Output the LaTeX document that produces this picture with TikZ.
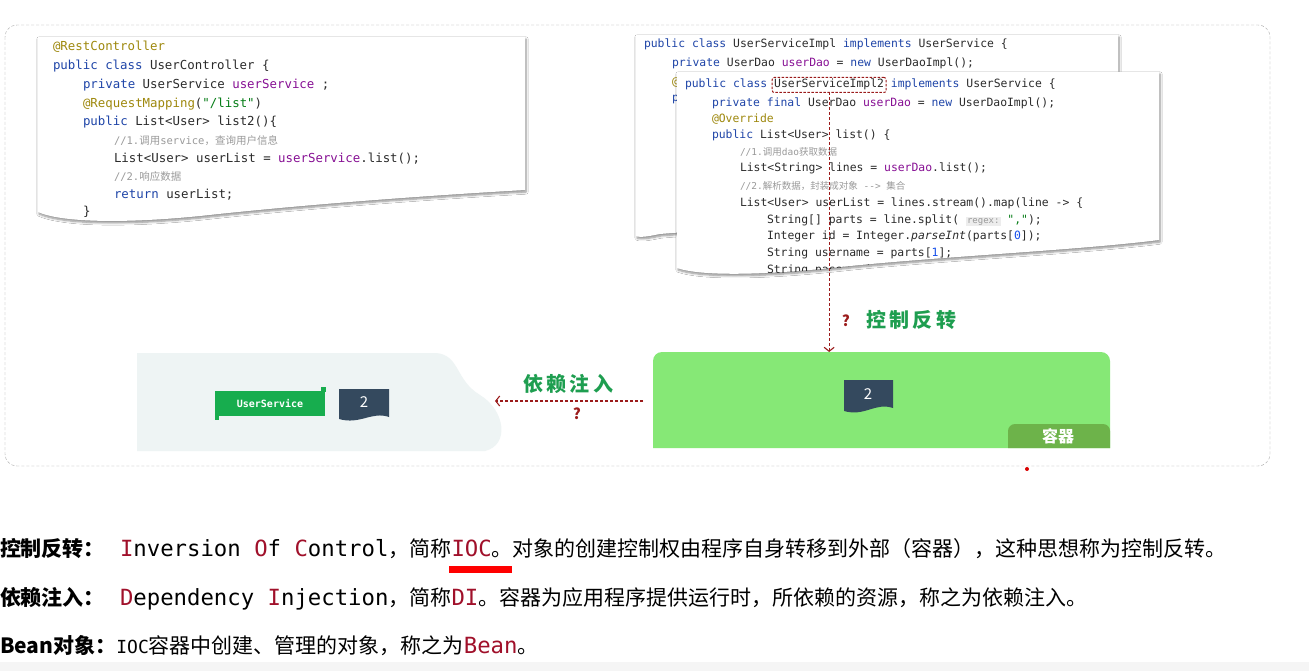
\documentclass[tikz,border=0pt]{standalone}
\usepackage{fontspec}
\setmainfont{Noto Sans CJK SC}
\setmonofont{DejaVu Sans Mono}
\newfontfamily\cjk{Noto Sans CJK SC}
\usepackage{xcolor}
\usepackage{tikz}
\usetikzlibrary{arrows.meta,positioning,calc,fit,shadows.blur}

\definecolor{kwblue}{HTML}{1F45A8}
\definecolor{annolive}{HTML}{9E880D}
\definecolor{fldpurple}{HTML}{871094}
\definecolor{strgreen}{HTML}{067D17}
\definecolor{cmtgray}{HTML}{9A9A9A}
\definecolor{codeblack}{HTML}{2B2B2B}
\definecolor{numblue}{HTML}{1750EB}
\definecolor{hintbg}{HTML}{EDEDED}
\definecolor{arrowred}{HTML}{9B1B1B}
\definecolor{handgreen}{HTML}{1E9E50}
\definecolor{contgreen}{HTML}{86E876}
\definecolor{tabgreen}{HTML}{6DB34A}
\definecolor{leftgray}{HTML}{EEF4F4}
\definecolor{taggreen}{HTML}{17AD4E}
\definecolor{docdark}{HTML}{34495E}
\definecolor{termred}{HTML}{A0102A}

\newcommand\jkw[1]{\textcolor{kwblue}{#1}}
\newcommand\jann[1]{\textcolor{annolive}{#1}}
\newcommand\jfld[1]{\textcolor{fldpurple}{#1}}
\newcommand\jstr[1]{\textcolor{strgreen}{#1}}
\newcommand\jcmt[1]{\textcolor{cmtgray}{#1}}
\newcommand\jnum[1]{\textcolor{numblue}{#1}}
\newcommand\mono[1]{{\ttfamily\fontsize{22.3}{26}\selectfont #1}}
\newcommand\hl[1]{\textcolor{termred}{#1}}

\begin{document}
\begin{tikzpicture}[x=1pt, y=-1pt,
  every node/.style={inner sep=0pt, outer sep=0pt},
  code/.style={anchor=west, text=codeblack, text height=9pt, text depth=3pt,
    font=\ttfamily\fontsize{12.4}{14}\selectfont},
  codesm/.style={code, font=\ttfamily\fontsize{11.4}{13}\selectfont},
  paper/.style={fill=white, blur shadow={shadow xshift=1pt, shadow yshift=-2pt,
    shadow blur steps=6, shadow opacity=45}},
  flow/.style={draw=arrowred, line width=1.1pt, dash pattern=on 3pt off 2pt,
    -{Straight Barb[length=4pt, width=10pt]}},
  hand/.style={text=handgreen, font=\bfseries\fontsize{20}{22}\selectfont},
  qmark/.style={text=arrowred, font=\bfseries\fontsize{15}{17}\selectfont},
  docnum/.style={text=white, font=\fontsize{15}{17}\selectfont},
  term/.style={anchor=base west, font=\fontsize{21}{25}\selectfont},
]
\fill[white] (0,0) rectangle (1309,671);
\useasboundingbox (0,0) rectangle (1309,671);
\fill[black!4] (0,662) rectangle (1309,671);

% ---- dashed frame ----
\draw[black!35, dash pattern=on 3pt off 2pt, rounded corners=12] (5,25) rectangle (1270,466);

% ---- controller code ----
\path[paper] (38,37) -- (525,37) -- (525,190) .. controls (420,196) and (300,205) .. (200,216)
  .. controls (120,224) and (60,222) .. (38,212) -- cycle;
\node[code] (ctl1) at (53,48) {\jann{@RestController}};
\node[code] (ctl2) at (53,67) {\jkw{public class} UserController \{};
\node[code] (ctl3) at (83,86) {\jkw{private} UserService \jfld{userService} ;};
\node[code] (ctl4) at (83,105) {\jann{@RequestMapping}(\jstr{"/list"})};
\node[code] (ctl5) at (83,123) {\jkw{public} List<User> list2()\{};
\node[code] (ctl6) at (114,142) {\jcmt{\fontsize{10.5}{12}\selectfont //1.{\cjk 调用}service{\cjk ，查询用户信息}}};
\node[code] (ctl7) at (114,160) {List<User> userList = \jfld{userService}.list();};
\node[code] (ctl8) at (114,178) {\jcmt{\fontsize{10.5}{12}\selectfont //2.{\cjk 响应数据}}};
\node[code] (ctl9) at (114,196) {\jkw{return} userList;};
\node[code] (ctl10) at (83,213) {\}};

% ---- service code (back) ----
\path[paper] (636,35) -- (1118,35) -- (1118,222) .. controls (950,226) and (750,226) .. (660,234)
  .. controls (650,236) and (640,238) .. (636,236) -- cycle;
\node[codesm] (svc1) at (644,45) {\jkw{public class} UserServiceImpl \jkw{implements} UserService \{};
\node[codesm] (svc2) at (672,64) {\jkw{private} UserDao \jfld{userDao} = \jkw{new} UserDaoImpl();};
\node[codesm] (svc3) at (672,83) {\jann{@}};
\node[codesm] (svc4) at (672,99) {\jkw{p}};

% ---- service code (front) ----
\path[paper] (677,72) -- (1159,72) -- (1159,240) .. controls (1080,250) and (950,256) .. (850,266)
  .. controls (760,276) and (700,276) .. (677,268) -- cycle;
\begin{scope}
\clip (677,72) -- (1159,72) -- (1159,240) .. controls (1080,250) and (950,256) .. (850,266)
  .. controls (760,276) and (700,276) .. (677,268) -- cycle;
\node[codesm] (imp1) at (685,85) {\jkw{public class}};
\node[codesm, right=6.86pt of imp1] (implname) {UserServiceImpl2};
\node[codesm, right=6.86pt of implname] (imp1c) {\jkw{implements} UserService \{};
\node[codesm] (imp2) at (712,104) {\jkw{private final} UserDao \jfld{userDao} = \jkw{new} UserDaoImpl();};
\node[codesm] (imp3) at (712,120) {\jann{@Override}};
\node[codesm] (imp4) at (712,136) {\jkw{public} List<User> list() \{};
\node[codesm] (imp5) at (740,153) {\jcmt{\fontsize{9.5}{11}\selectfont //1.{\cjk 调用}dao{\cjk 获取数据}}};
\node[codesm] (imp6) at (740,169) {List<String> lines = \jfld{userDao}.list();};
\node[codesm] (imp7) at (740,187) {\jcmt{\fontsize{9.5}{11}\selectfont //2.{\cjk 解析数据，封装成对象} --> {\cjk 集合}}};
\node[codesm] (imp8) at (740,204) {List<User> userList = lines.stream().map(line -> \{};
\node[codesm] (imp9) at (767,220) {String[] parts = line.split( {\setlength{\fboxsep}{1pt}\colorbox{hintbg}{\textcolor{cmtgray}{\fontsize{9}{10}\selectfont regex:}}} \jstr{","});};
\node[codesm] (imp10) at (767,237) {Integer id = Integer.\textit{parseInt}(parts[\jnum{0}]);};
\node[codesm] (imp11) at (767,253) {String username = parts[\jnum{1}];};
\node[codesm] (imp12) at (767,270) {String password = pa};
\end{scope}
\node[draw=arrowred, dash pattern=on 2.5pt off 1.5pt, line width=1pt, rounded corners=2pt,
  inner xsep=2pt, inner ysep=1.5pt, fit=(implname)] (implbox) {};

% ---- container ----
\fill[contgreen] (653,448) [rounded corners=9] |- (1110,352) [sharp corners] -- (1110,448) -- cycle;
\coordinate (iocTop) at (827,352);
\coordinate (iocWest) at (653,401);
\fill[tabgreen] (1008,448) [rounded corners=7] |- (1110,424) [sharp corners] -- (1110,448) -- cycle;
\node[text=white, font=\bfseries\fontsize{16}{18}\selectfont] (tab) at (1058,436) {容器};
\fill[docdark] (844,380) -- (893,380) -- (893,408) .. controls (875,402) and (865,417) .. (844,411) -- cycle;
\node[docnum] (doc2) at (868,394) {2};

% ---- inverted control ----
\draw[flow] (implbox.south) -- (implbox.south |- iocTop);
\node[qmark] (iocq) at (846,321) {?};
\node[hand, anchor=west] (iocText) at (866,320) {控\,制\,反\,转};

% ---- consumer side ----
\fill[leftgray] (137,353) -- (436,353) .. controls (460,355) and (455,380) .. (480,395)
  .. controls (505,410) and (510,445) .. (485,451) -- (137,451) -- cycle;
\fill[taggreen] (215,391) rectangle (325,416);
\fill[taggreen] (321,387) rectangle (326,392);
\fill[taggreen] (215,415) rectangle (219,420);
\node[text=white, font=\ttfamily\bfseries\fontsize{10}{12}\selectfont] (svcTag) at (270,403.5) {UserService};
\fill[docdark] (339,389) -- (389,389) -- (389,417) .. controls (372,411) and (360,425) .. (339,419) -- cycle;
\node[docnum] (doc1) at (364,402) {2};

% ---- injection ----
\coordinate (diEnd) at (495,401);
\draw[flow] ([xshift=-10pt]iocWest) -- (diEnd);
\node[hand] (diText) at (568,384) {依\,赖\,注\,入};
\node[qmark] (diq) at (577,414) {?};
\fill[red!85!black] (1027,469) circle (2);

% ---- definitions ----
\node[term] (defIoc) at (0,556) {{\bfseries 控制反转：}\hspace{15pt}\mono{\hl{I}nversion \hl{O}f \hl{C}ontrol}，简称\mono{\hl{IOC}}。对象的创建控制权由程序自身转移到外部（容器），这种思想称为控制反转。};
\fill[red] (449,566) rectangle (512,573);
\node[term] (defDi) at (0,605) {{\bfseries 依赖注入：}\hspace{15pt}\mono{\hl{D}ependency \hl{I}njection}，简称\mono{\hl{DI}}。容器为应用程序提供运行时，所依赖的资源，称之为依赖注入。};
\node[term] (defBean) at (0,653) {{\bfseries Bean对象：}{\ttfamily\fontsize{18}{22}\selectfont IOC}容器中创建、管理的对象，称之为\mono{\hl{Bean}}。};
\end{tikzpicture}
\end{document}
